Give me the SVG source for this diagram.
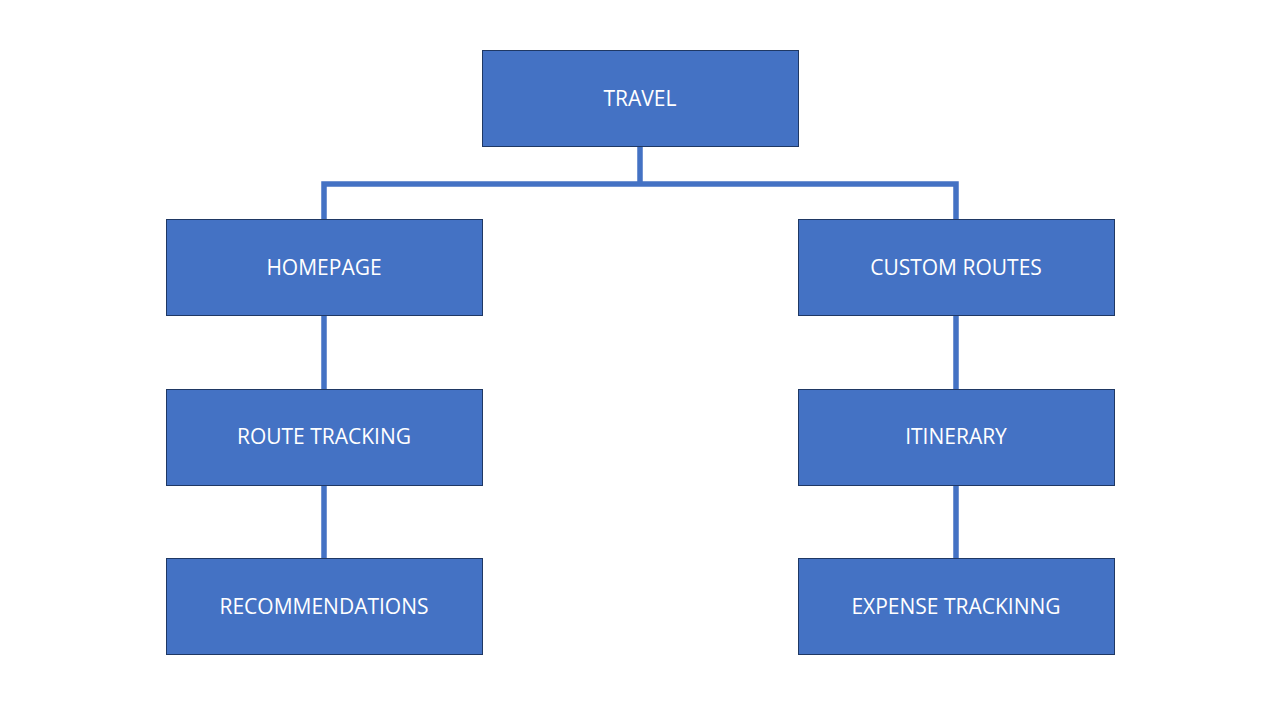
<svg xmlns="http://www.w3.org/2000/svg" width="1280" height="720" viewBox="0 0 1280 720">
<style>
.box{fill:#4472C4;stroke:#1F3864;stroke-width:1}
.lbl{fill:#FFFFFF;font-family:"Open Sans","Liberation Sans",sans-serif;font-size:21px;text-anchor:middle}
.conn{fill:none;stroke:#4472C4;stroke-width:5.5}
</style>
<rect width="1280" height="720" fill="#FFFFFF"/>
<g id="connectors">
<path class="conn" d="M640 146V184M324 219V184H956V219"/>
<path class="conn" d="M324 315V389M324 485V558"/>
<path class="conn" d="M956 315V389M956 485V558"/>
</g>
<g id="travel"><rect class="box" x="482.5" y="50.5" width="316" height="96"/><text class="lbl" x="640" y="105.5">TRAVEL</text></g>
<g id="homepage"><rect class="box" x="166.5" y="219.5" width="316" height="96"/><text class="lbl" x="324" y="274.5">HOMEPAGE</text></g>
<g id="custom-routes"><rect class="box" x="798.5" y="219.5" width="316" height="96"/><text class="lbl" x="956" y="274.5">CUSTOM ROUTES</text></g>
<g id="route-tracking"><rect class="box" x="166.5" y="389.5" width="316" height="96"/><text class="lbl" x="324" y="444">ROUTE TRACKING</text></g>
<g id="itinerary"><rect class="box" x="798.5" y="389.5" width="316" height="96"/><text class="lbl" x="956" y="444">ITINERARY</text></g>
<g id="recommendations"><rect class="box" x="166.5" y="558.5" width="316" height="96"/><text class="lbl" x="324" y="613.5">RECOMMENDATIONS</text></g>
<g id="expense-tracking"><rect class="box" x="798.5" y="558.5" width="316" height="96"/><text class="lbl" x="956" y="613.5">EXPENSE TRACKINNG</text></g>
</svg>
